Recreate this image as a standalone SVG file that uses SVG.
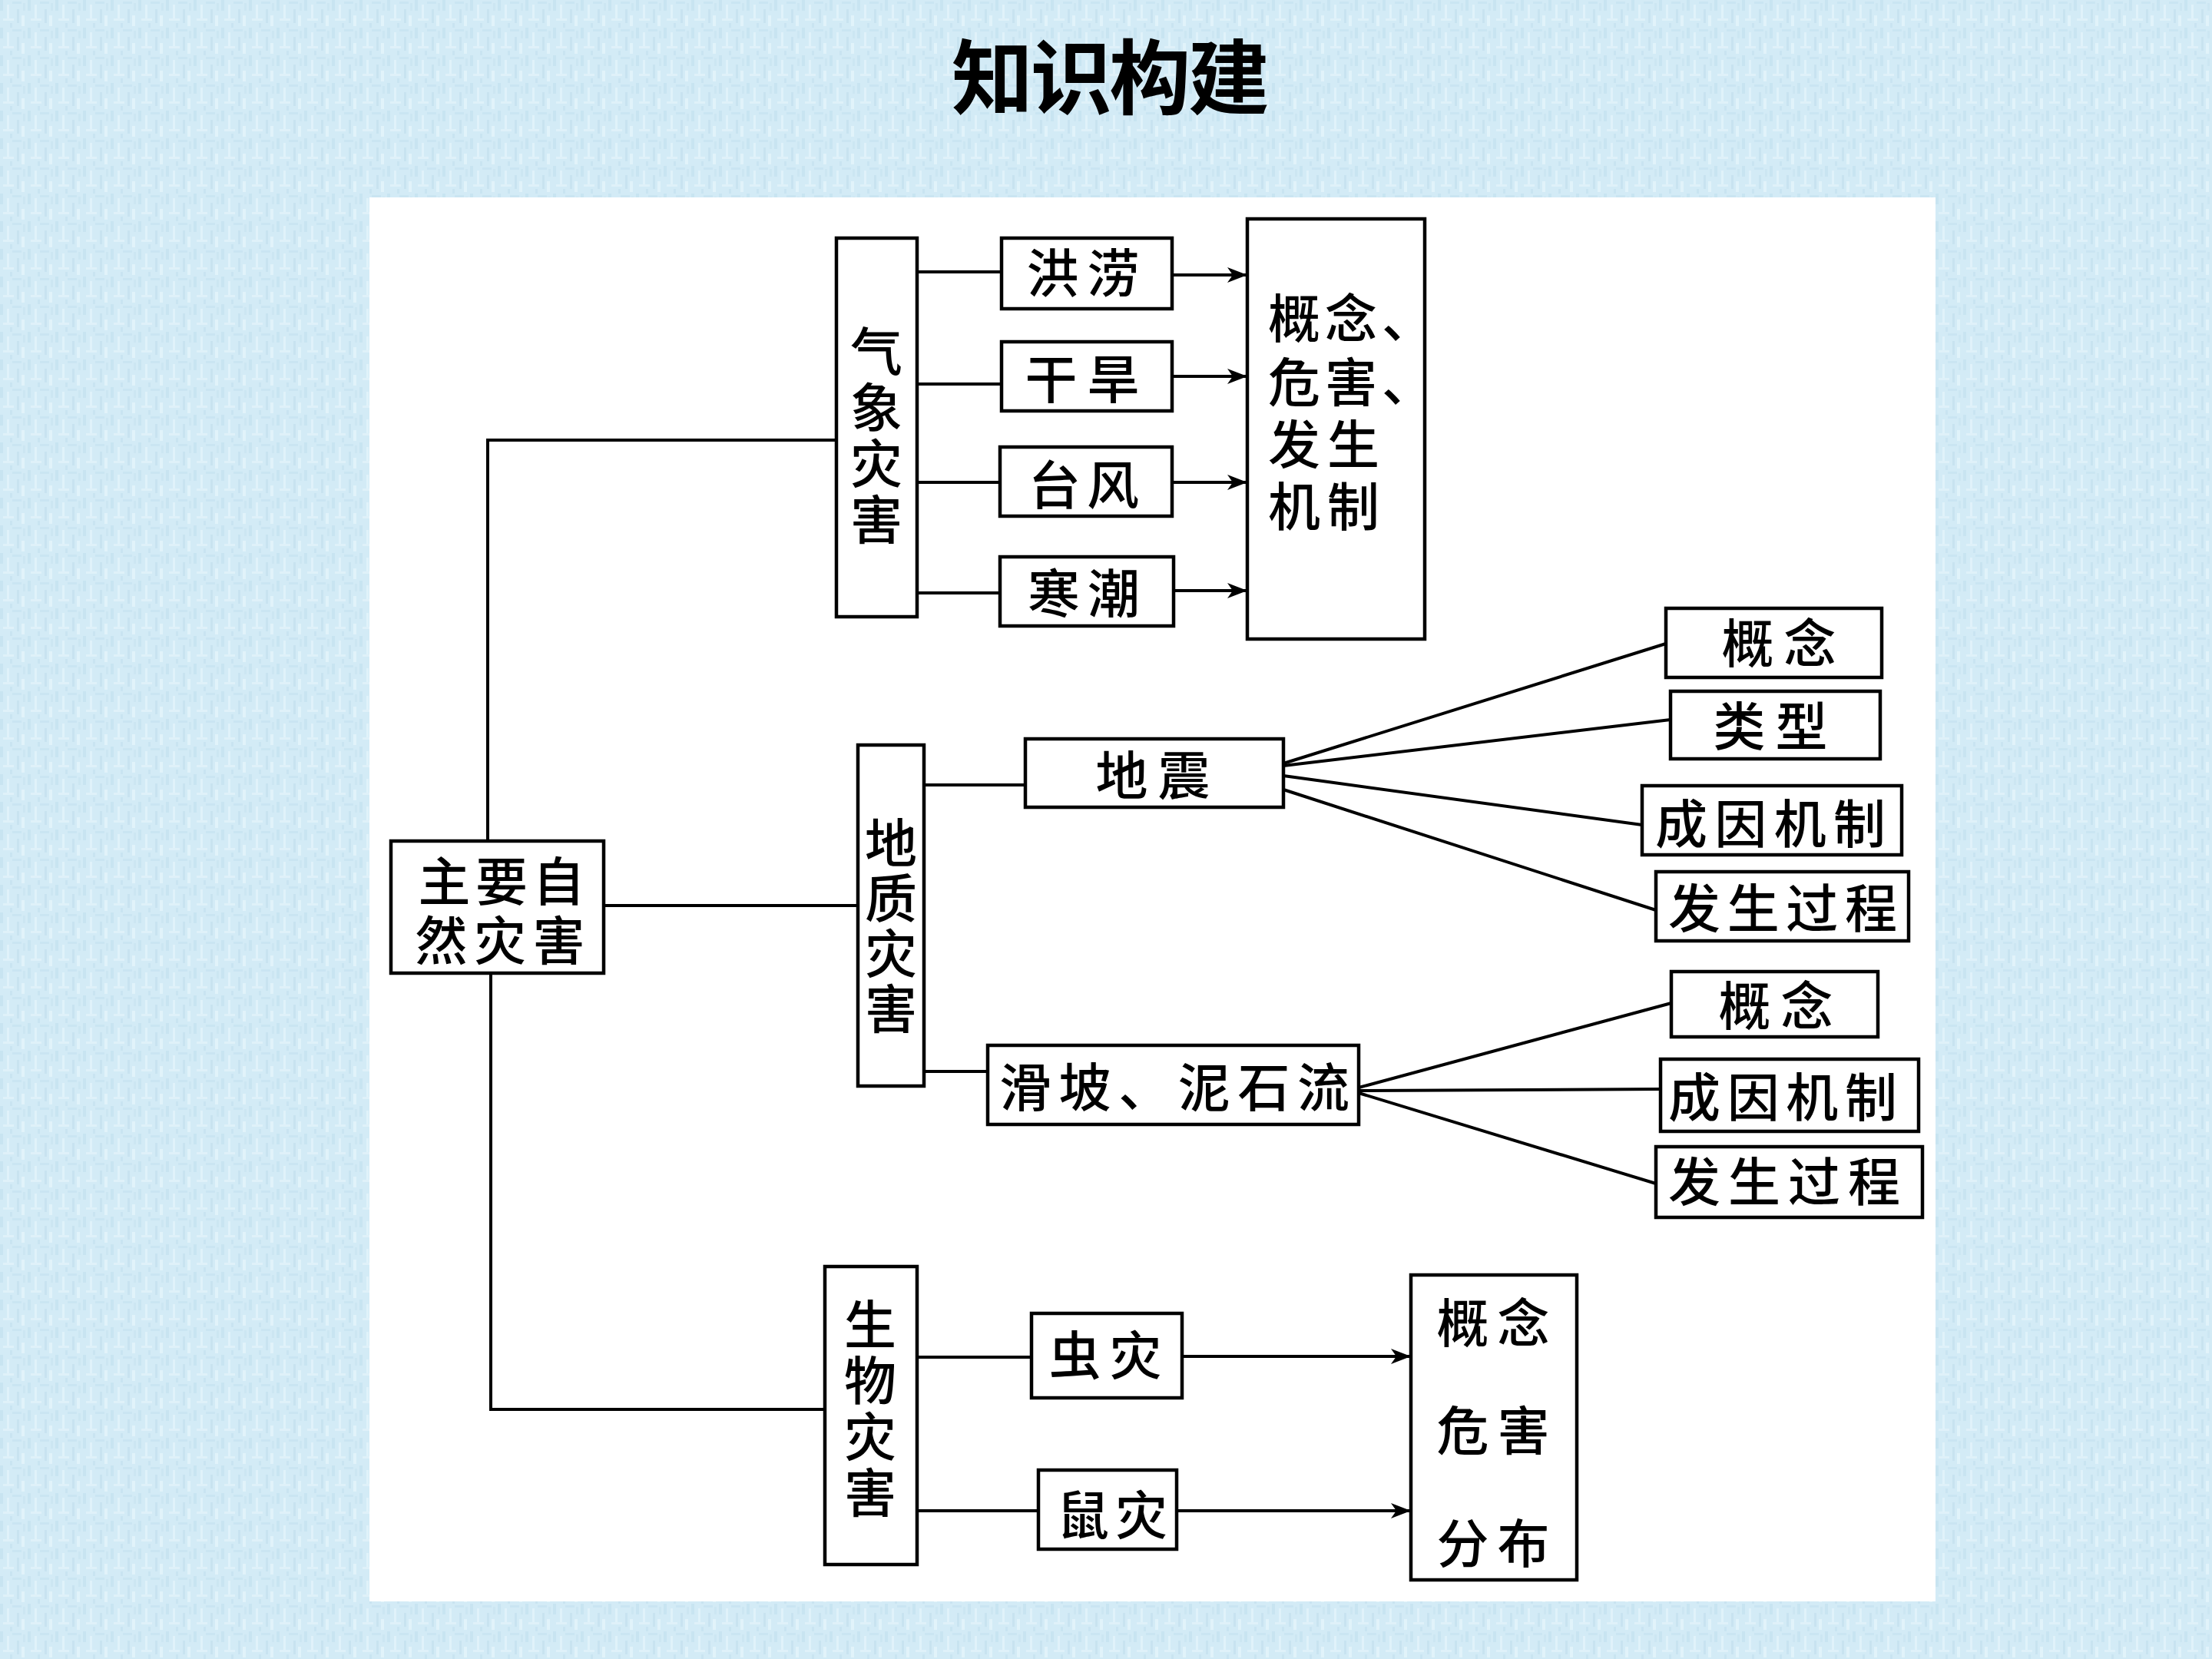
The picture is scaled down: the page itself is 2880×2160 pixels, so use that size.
<svg xmlns="http://www.w3.org/2000/svg" width="2880" height="2160" viewBox="0 0 2880 2160">
<style>
.box{fill:#fff;stroke:#000;stroke-width:4.5}
.t{font-family:"Noto Sans CJK SC","Noto Sans CJK TC",sans-serif;font-size:68px;font-weight:500;fill:#000;text-anchor:middle}
.ts{font-family:"Noto Sans CJK SC","Noto Sans CJK TC",sans-serif;font-size:68px;font-weight:500;fill:#000;text-anchor:start}
.v{font-family:"Noto Sans CJK SC","Noto Sans CJK TC",sans-serif;font-size:68px;font-weight:500;fill:#000;text-anchor:middle;writing-mode:vertical-rl}
.title{font-family:"Noto Sans CJK SC",sans-serif;font-size:106px;font-weight:700;fill:#000;text-anchor:middle}
.c{fill:none;stroke:#000;stroke-width:4}
.a{fill:none;stroke:#000;stroke-width:4;marker-end:url(#arr)}
</style>
<defs>
<pattern id="tex" width="36" height="36" patternUnits="userSpaceOnUse">
<rect width="36" height="36" fill="#d3ebf6"/>
<rect x="0" y="0" width="4" height="14" fill="#c8e4f1"/>
<rect x="9" y="6" width="3" height="20" fill="#e0f2fa"/>
<rect x="16" y="2" width="12" height="3" fill="#cae5f2"/>
<rect x="22" y="12" width="3" height="18" fill="#c8e3f0"/>
<rect x="4" y="24" width="14" height="3" fill="#dff1f9"/>
<rect x="28" y="20" width="4" height="14" fill="#e1f3fa"/>
<rect x="13" y="30" width="3" height="6" fill="#c9e4f1"/>
<rect x="30" y="4" width="3" height="10" fill="#cce6f2"/>
</pattern>
<marker id="arr" markerUnits="userSpaceOnUse" markerWidth="30" markerHeight="22" refX="26" refY="10" orient="auto">
<path d="M0,0 L26,10 L0,20 L7,10 Z" fill="#000"/>
</marker>
</defs>
<rect width="2880" height="2160" fill="url(#tex)"/>
<text class="title" x="1446" y="140" textLength="414">知识构建</text>
<rect x="481" y="257" width="2039" height="1828" fill="#fff"/>

<g id="connectors">
<polyline class="c" points="635,1095 635,573 1089,573"/>
<polyline class="c" points="639,1267 639,1835 1074,1835"/>
<line class="c" x1="786" y1="1179" x2="1117" y2="1179"/>
<line class="c" x1="1194" y1="354" x2="1304" y2="354"/>
<line class="c" x1="1194" y1="500" x2="1304" y2="500"/>
<line class="c" x1="1194" y1="628" x2="1302" y2="628"/>
<line class="c" x1="1194" y1="772" x2="1302" y2="772"/>
<line class="a" x1="1526" y1="358" x2="1624" y2="358"/>
<line class="a" x1="1526" y1="490" x2="1624" y2="490"/>
<line class="a" x1="1526" y1="628" x2="1624" y2="628"/>
<line class="a" x1="1528" y1="769" x2="1624" y2="769"/>
<line class="c" x1="1203" y1="1022" x2="1335" y2="1022"/>
<line class="c" x1="1203" y1="1395" x2="1286" y2="1395"/>
<line class="c" x1="1671" y1="994" x2="2169" y2="838"/>
<line class="c" x1="1671" y1="997" x2="2175" y2="937"/>
<line class="c" x1="1671" y1="1010" x2="2138" y2="1074"/>
<line class="c" x1="1671" y1="1028" x2="2156" y2="1185"/>
<line class="c" x1="1769" y1="1416" x2="2176" y2="1306"/>
<line class="c" x1="1769" y1="1420" x2="2162" y2="1418"/>
<line class="c" x1="1769" y1="1423" x2="2156" y2="1541"/>
<line class="c" x1="1194" y1="1767" x2="1343" y2="1767"/>
<line class="a" x1="1539" y1="1766" x2="1837" y2="1766"/>
<line class="c" x1="1194" y1="1967" x2="1352" y2="1967"/>
<line class="a" x1="1532" y1="1967" x2="1837" y2="1967"/>
</g>

<g id="n-main">
<rect class="box" x="509" y="1095" width="277" height="172"/>
<text class="t"><tspan x="653" y="1173" textLength="217">主要自</tspan><tspan x="651" y="1250" textLength="221">然灾害</tspan></text>
</g>
<g id="n-qixiang">
<rect class="box" x="1089" y="310" width="105" height="493"/>
<text class="v" x="1141" y="569" letter-spacing="5">气象灾害</text>
</g>
<g id="n-honglao">
<rect class="box" x="1304" y="310" width="222" height="92"/>
<text class="t" x="1410" y="381" textLength="147">洪涝</text>
</g>
<g id="n-ganhan">
<rect class="box" x="1304" y="445" width="222" height="90"/>
<text class="t" x="1409" y="519" textLength="149">干旱</text>
</g>
<g id="n-taifeng">
<rect class="box" x="1302" y="582" width="224" height="90"/>
<text class="t" x="1411" y="657" textLength="144">台风</text>
</g>
<g id="n-hanchao">
<rect class="box" x="1302" y="725" width="226" height="90"/>
<text class="t" x="1411" y="798" textLength="146">寒潮</text>
</g>
<g id="n-qx-result">
<rect class="box" x="1624" y="285" width="231" height="547"/>
<text class="ts"><tspan x="1651" y="440" textLength="216">概念、</tspan><tspan x="1651" y="523" textLength="216">危害、</tspan><tspan x="1651" y="604" textLength="145">发生</tspan><tspan x="1651" y="685" textLength="145">机制</tspan></text>
</g>
<g id="n-dizhi">
<rect class="box" x="1117" y="970" width="86" height="444"/>
<text class="v" x="1160" y="1207" letter-spacing="4">地质灾害</text>
</g>
<g id="n-dizhen">
<rect class="box" x="1335" y="962" width="336" height="89"/>
<text class="t" x="1501" y="1035" textLength="149">地震</text>
</g>
<g id="n-dz-gainian">
<rect class="box" x="2169" y="792" width="281" height="90"/>
<text class="t" x="2316" y="863" textLength="149">概念</text>
</g>
<g id="n-dz-leixing">
<rect class="box" x="2175" y="900" width="273" height="88"/>
<text class="t" x="2305" y="971" textLength="149">类型</text>
</g>
<g id="n-dz-chengyin">
<rect class="box" x="2138" y="1023" width="338" height="90"/>
<text class="t" x="2305" y="1098" textLength="300">成因机制</text>
</g>
<g id="n-dz-guocheng">
<rect class="box" x="2156" y="1135" width="329" height="90"/>
<text class="t" x="2321" y="1208" textLength="298">发生过程</text>
</g>
<g id="n-huapo">
<rect class="box" x="1286" y="1361" width="483" height="103"/>
<text class="t" x="1529" y="1441" textLength="456">滑坡、泥石流</text>
</g>
<g id="n-hp-gainian">
<rect class="box" x="2176" y="1265" width="269" height="85"/>
<text class="t" x="2312" y="1335" textLength="149">概念</text>
</g>
<g id="n-hp-chengyin">
<rect class="box" x="2162" y="1379" width="336" height="94"/>
<text class="t" x="2321" y="1454" textLength="298">成因机制</text>
</g>
<g id="n-hp-guocheng">
<rect class="box" x="2156" y="1493" width="347" height="92"/>
<text class="t" x="2323" y="1564" textLength="302">发生过程</text>
</g>
<g id="n-shengwu">
<rect class="box" x="1074" y="1649" width="120" height="388"/>
<text class="v" x="1133" y="1836" letter-spacing="5">生物灾害</text>
</g>
<g id="n-chongzai">
<rect class="box" x="1343" y="1710" width="196" height="110"/>
<text class="t" x="1439" y="1790" textLength="147">虫灾</text>
</g>
<g id="n-shuzai">
<rect class="box" x="1352" y="1914" width="180" height="103"/>
<text class="t" x="1448" y="1998" textLength="144">鼠灾</text>
</g>
<g id="n-sw-result">
<rect class="box" x="1837" y="1660" width="216" height="397"/>
<text class="t"><tspan x="1944" y="1748" textLength="147">概念</tspan><tspan x="1944" y="1888" textLength="147">危害</tspan><tspan x="1944" y="2035" textLength="147">分布</tspan></text>
</g>
</svg>
